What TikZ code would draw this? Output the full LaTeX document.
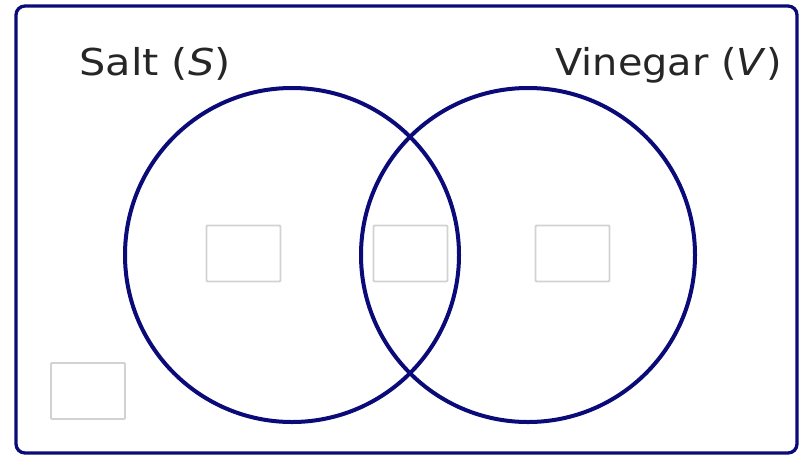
\documentclass[tikz,border=0pt]{standalone}
\usepackage{fontspec}
\setmainfont{DejaVu Sans}
\definecolor{navy}{RGB}{10,10,120}
\definecolor{boxgray}{RGB}{210,210,210}
\begin{document}
\begin{tikzpicture}[x=1pt,y=-1pt,
  setcircle/.style={draw=navy,line width=4pt},
  answerbox/.style={draw=boxgray,line width=1.8pt,rounded corners=1pt},
  setlabel/.style={font=\fontsize{37}{40}\selectfont,text=black!85,inner sep=0pt,anchor=base,xscale=1.12}]
\useasboundingbox (0,0) rectangle (799,456);
\draw[navy,line width=3.3pt,rounded corners=9pt] (16,6) rectangle (797,453);
\node[setcircle,circle,minimum size=334pt,inner sep=0pt] (S) at (292,255) {};
\node[setcircle,circle,minimum size=334pt,inner sep=0pt] (V) at (528,255) {};
\node[answerbox,minimum width=74pt,minimum height=56pt,inner sep=0pt] (b1) at (243.5,253.5) {};
\node[answerbox,minimum width=74pt,minimum height=56pt,inner sep=0pt] (b2) at (410.5,253.5) {};
\node[answerbox,minimum width=74pt,minimum height=56pt,inner sep=0pt] (b3) at (572.5,253.5) {};
\node[answerbox,minimum width=74pt,minimum height=56pt,inner sep=0pt] (b4) at (88,391) {};
\node[setlabel] (ls) at (155,75) {Salt (\textit{S})};
\node[setlabel,xscale=0.96] (lv) at (668.5,75) {Vinegar (\textit{V})};
\end{tikzpicture}
\end{document}
